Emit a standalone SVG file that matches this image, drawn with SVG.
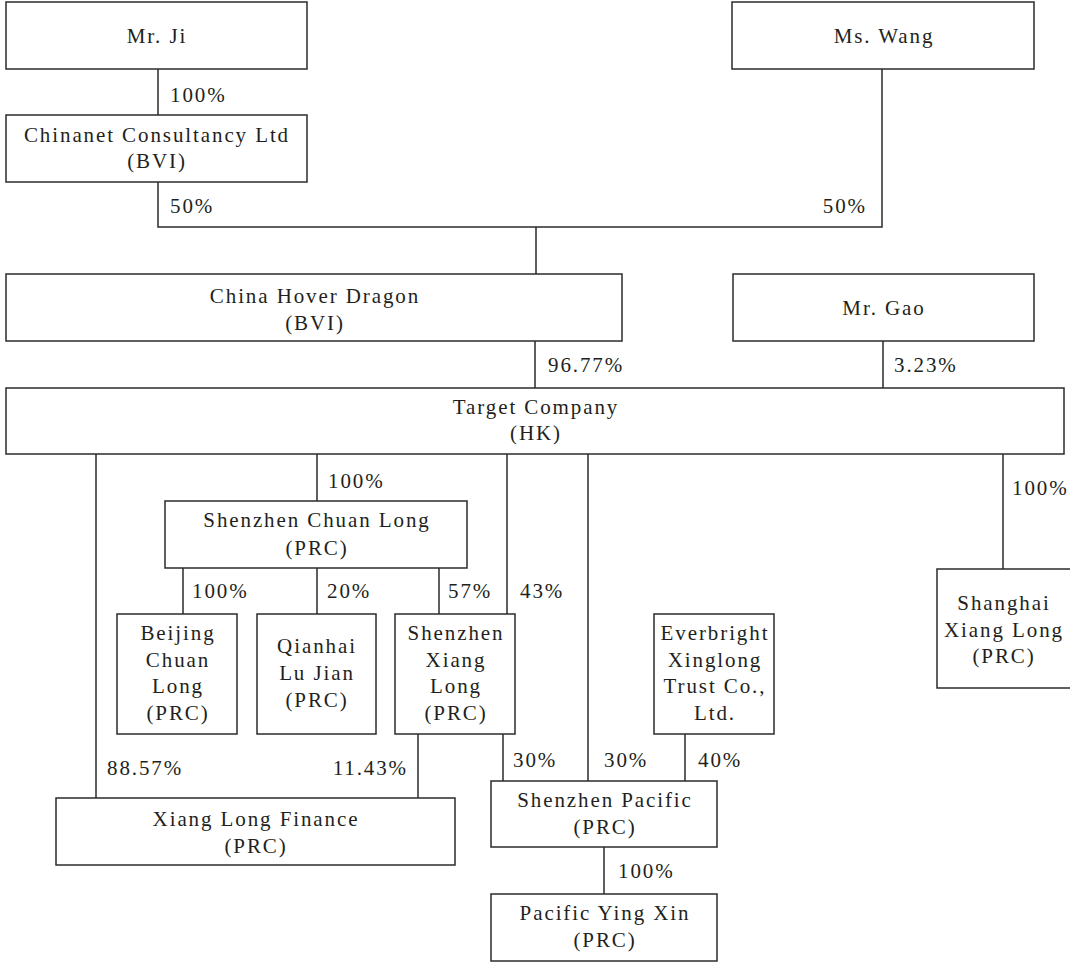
<svg xmlns="http://www.w3.org/2000/svg" width="1070" height="962" viewBox="0 0 1070 962">
<style>
.box{fill:#fff;stroke:#2b2b2b;stroke-width:1.5}
.ln{fill:none;stroke:#2b2b2b;stroke-width:1.5}
text{font-family:"Liberation Serif","Times New Roman",serif;font-size:21px;fill:#231f20;letter-spacing:1.9px}
.c{text-anchor:middle}
.e{text-anchor:end}
</style>
<rect width="1070" height="962" fill="#fff"/>
<g id="connectors">
<path class="ln" d="M158 69V115M158 182V227H882V69M536 227V274"/>
<path class="ln" d="M535 341V388M883 341V388"/>
<path class="ln" d="M317 454V501M183 568V614M317 568V614M439 568V614M507 454V614M1003 454V569"/>
<path class="ln" d="M96 454V798M418 734V798M503 734V781M588 454V781M685 734V781M604 847V894"/>
<text x="170" y="102">100%</text>
<text x="170" y="213">50%</text>
<text class="e" x="867" y="213">50%</text>
<text x="548" y="372">96.77%</text>
<text x="894" y="372">3.23%</text>
<text x="328" y="488">100%</text>
<text x="1012" y="495">100%</text>
<text x="192" y="598">100%</text>
<text x="327" y="598">20%</text>
<text x="448" y="598">57%</text>
<text x="520" y="598">43%</text>
<text x="107" y="775">88.57%</text>
<text class="e" x="408" y="775">11.43%</text>
<text x="513" y="767">30%</text>
<text x="604" y="767">30%</text>
<text x="698" y="767">40%</text>
<text x="618" y="878">100%</text>
</g>
<g id="mr-ji"><rect class="box" x="6" y="2" width="301" height="67"/><text class="c" x="157" y="43">Mr. Ji</text></g>
<g id="ms-wang"><rect class="box" x="732" y="2" width="302" height="67"/><text class="c" x="884" y="43">Ms. Wang</text></g>
<g id="chinanet"><rect class="box" x="6" y="115" width="301" height="67"/><text class="c" x="157" y="142">Chinanet Consultancy Ltd</text><text class="c" x="157" y="168">(BVI)</text></g>
<g id="china-hover-dragon"><rect class="box" x="6" y="274" width="616" height="67"/><text class="c" x="315" y="303">China Hover Dragon</text><text class="c" x="315" y="330">(BVI)</text></g>
<g id="mr-gao"><rect class="box" x="733" y="274" width="301" height="67"/><text class="c" x="884" y="315">Mr. Gao</text></g>
<g id="target"><rect class="box" x="6" y="388" width="1058" height="66"/><text class="c" x="536" y="414">Target Company</text><text class="c" x="536" y="440">(HK)</text></g>
<g id="shenzhen-chuan-long"><rect class="box" x="165" y="501" width="302" height="67"/><text class="c" x="317" y="527">Shenzhen Chuan Long</text><text class="c" x="317" y="555">(PRC)</text></g>
<g id="beijing-chuan-long"><rect class="box" x="117" y="614" width="120" height="120"/><text class="c" x="178" y="640">Beijing</text><text class="c" x="178" y="667">Chuan</text><text class="c" x="178" y="693">Long</text><text class="c" x="178" y="720">(PRC)</text></g>
<g id="qianhai-lu-jian"><rect class="box" x="257" y="614" width="119" height="120"/><text class="c" x="317" y="653">Qianhai</text><text class="c" x="317" y="680">Lu Jian</text><text class="c" x="317" y="707">(PRC)</text></g>
<g id="shenzhen-xiang-long"><rect class="box" x="395" y="614" width="120" height="120"/><text class="c" x="456" y="640">Shenzhen</text><text class="c" x="456" y="667">Xiang</text><text class="c" x="456" y="693">Long</text><text class="c" x="456" y="720">(PRC)</text></g>
<g id="everbright"><rect class="box" x="654" y="614" width="120" height="120"/><text class="c" x="715" y="640">Everbright</text><text class="c" x="715" y="667">Xinglong</text><text class="c" x="715" y="693">Trust Co.,</text><text class="c" x="715" y="720">Ltd.</text></g>
<g id="shanghai-xiang-long"><rect class="box" x="937" y="569" width="136" height="119"/><text class="c" x="1004" y="610">Shanghai</text><text class="c" x="1004" y="637">Xiang Long</text><text class="c" x="1004" y="663">(PRC)</text></g>
<g id="xiang-long-finance"><rect class="box" x="56" y="798" width="399" height="67"/><text class="c" x="256" y="826">Xiang Long Finance</text><text class="c" x="256" y="853">(PRC)</text></g>
<g id="shenzhen-pacific"><rect class="box" x="491" y="781" width="226" height="66"/><text class="c" x="605" y="807">Shenzhen Pacific</text><text class="c" x="605" y="834">(PRC)</text></g>
<g id="pacific-ying-xin"><rect class="box" x="491" y="894" width="226" height="67"/><text class="c" x="605" y="920">Pacific Ying Xin</text><text class="c" x="605" y="947">(PRC)</text></g>
</svg>
